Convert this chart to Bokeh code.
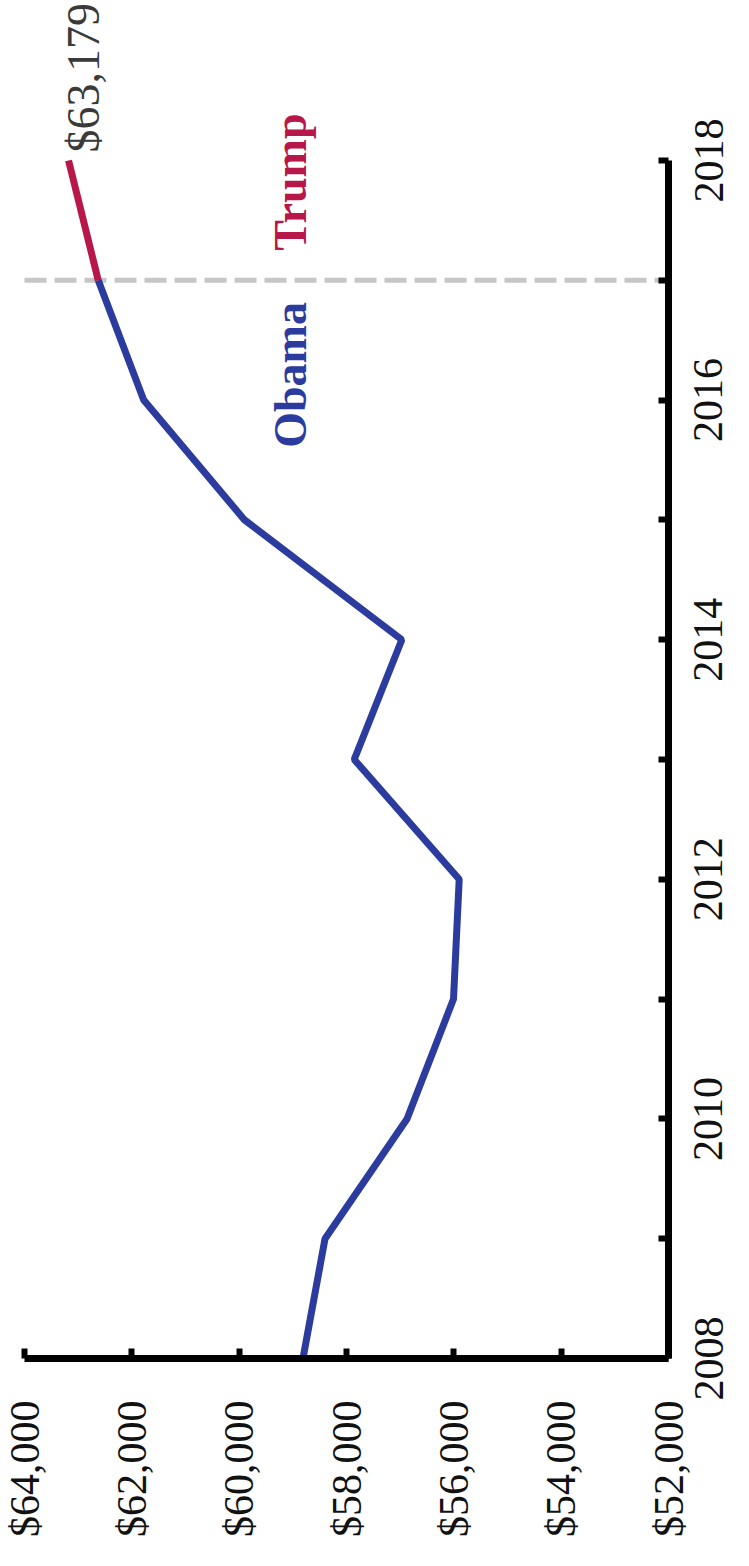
from math import pi
from bokeh.plotting import figure
from bokeh.models import (Range1d, LinearAxis, FixedTicker, NumeralTickFormatter,
                          PrintfTickFormatter, Label)
from bokeh.embed import file_html
from bokeh.resources import INLINE

# ---- data ----
years = [2008, 2009, 2010, 2011, 2012, 2013, 2014, 2015, 2016, 2017, 2018]
income = [58811, 58400, 56873, 56006, 55900, 57856, 56969, 59901, 61779, 62626, 63179]
transition_year = 2017
obama_years = [y for y in years if y <= transition_year]
obama_income = income[:len(obama_years)]
trump_years = [y for y in years if y >= transition_year]
trump_income = income[len(obama_years) - 1:]
year_ticks = [2008, 2010, 2012, 2014, 2016, 2018]
year_all_ticks = [2008, 2009, 2010, 2011, 2012, 2013, 2014, 2015, 2016, 2017, 2018]
dollar_ticks = [52000, 54000, 56000, 58000, 60000, 62000, 64000]
end_label = "$63,179"

BLUE = "#2b3c9e"
RED = "#b8174a"
FONT = "Liberation Serif"
X_LABEL_PX = 42
Y_LABEL_PX = 42

# ---- layout (frame fills the figure; axes are pinned with fixed_location) ----
W, H = 733, 1550
X_LEFT_PX, X_RIGHT_PX = 24, 668       # where $64,000 and $52,000 sit
Y_TOP_PX, Y_BOT_PX = 160, 1358        # where 2018 and 2008 sit
x_hi, x_lo = max(dollar_ticks), min(dollar_ticks)
y_lo, y_hi = min(years), max(years)
px_per_dollar = (X_RIGHT_PX - X_LEFT_PX) / (x_hi - x_lo)
px_per_year = (Y_BOT_PX - Y_TOP_PX) / (y_hi - y_lo)
x_start = x_hi + X_LEFT_PX / px_per_dollar
x_end = x_lo - (W - X_RIGHT_PX) / px_per_dollar
y_end = y_hi + Y_TOP_PX / px_per_year
y_start = y_lo - (H - Y_BOT_PX) / px_per_year

p = figure(width=W, height=H,
           x_range=Range1d(x_start, x_end), y_range=Range1d(y_start, y_end),
           output_backend="svg", toolbar_location=None,
           x_axis_location=None, y_axis_location=None, min_border=0)
p.grid.visible = False
p.outline_line_color = None
p.background_fill_color = "white"
p.border_fill_color = "white"

# shifted range so that the year labels (drawn from their anchor) are centred on ticks
half_label_years = (2 * Y_LABEL_PX) / 2 / px_per_year
p.extra_y_ranges = {"lbl": Range1d(y_start + half_label_years, y_end + half_label_years)}


def style_axis(ax, size):
    ax.axis_line_color = "black"
    ax.axis_line_width = 7
    ax.major_tick_line_color = "black"
    ax.major_tick_line_width = 6
    ax.major_tick_in = 10
    ax.major_tick_out = 0
    ax.minor_tick_line_color = "black"
    ax.minor_tick_line_width = 6
    ax.minor_tick_in = 10
    ax.minor_tick_out = 0
    ax.major_label_text_font = FONT
    ax.major_label_text_font_size = f"{size}px"
    ax.major_label_text_color = "#111111"
    ax.major_label_orientation = pi / 2


# dollar axis along the bottom
xaxis = LinearAxis(ticker=FixedTicker(ticks=dollar_ticks, minor_ticks=[]),
                   formatter=NumeralTickFormatter(format="$0,0"),
                   bounds=(x_lo, x_hi), fixed_location=y_lo)
style_axis(xaxis, X_LABEL_PX)
xaxis.major_label_standoff = 42
p.add_layout(xaxis, "below")

# year axis line + ticks (every year) on the right
yaxis = LinearAxis(ticker=FixedTicker(ticks=[], minor_ticks=year_all_ticks),
                   bounds=(y_lo, y_hi), fixed_location=x_lo)
style_axis(yaxis, Y_LABEL_PX)
p.add_layout(yaxis, "right")

# year labels (every other year)
ylabels = LinearAxis(y_range_name="lbl",
                     ticker=FixedTicker(ticks=year_ticks, minor_ticks=[]),
                     formatter=PrintfTickFormatter(format="%d"),
                     fixed_location=x_lo)
style_axis(ylabels, Y_LABEL_PX)
ylabels.axis_line_color = None
ylabels.major_tick_line_color = None
ylabels.minor_tick_line_color = None
ylabels.major_label_standoff = 40
p.add_layout(ylabels, "right")

# transition line (Obama -> Trump)
p.line([x_hi, x_lo], [transition_year, transition_year],
       line_color="#c6c6c6", line_width=5, line_dash="22 8")

# income lines
p.line(obama_income, obama_years, line_color=BLUE, line_width=7)
p.line(trump_income, trump_years, line_color=RED, line_width=7)

# labels
p.add_layout(Label(x=59040, y=2016.21, text="Obama", angle=pi / 2,
                   text_align="center", text_baseline="alphabetic",
                   text_font=FONT, text_font_style="bold", text_font_size="46px",
                   text_color=BLUE))
p.add_layout(Label(x=59040, y=2017.82, text="Trump", angle=pi / 2,
                   text_align="center", text_baseline="alphabetic",
                   text_font=FONT, text_font_style="bold", text_font_size="46px",
                   text_color=RED))
p.add_layout(Label(x=62906, y=2018.69, text=end_label, angle=pi / 2,
                   text_align="center", text_baseline="alphabetic",
                   text_font=FONT, text_font_size="46px",
                   text_color="#3a3a3a"))

open("out.html", "w").write(file_html(p, INLINE))
